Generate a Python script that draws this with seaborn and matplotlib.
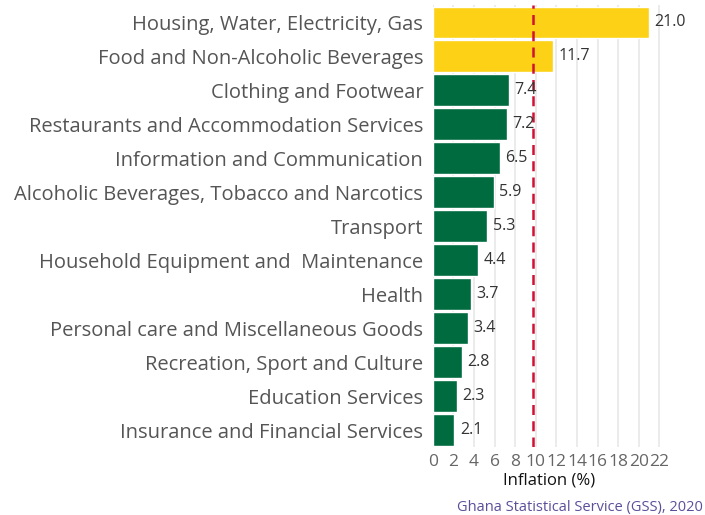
import pandas as pd
import numpy as np
import matplotlib.pyplot as plt
import seaborn as sns

categories = [
    "Housing, Water, Electricity, Gas",
    "Food and Non-Alcoholic Beverages",
    "Clothing and Footwear",
    "Restaurants and Accommodation Services",
    "Information and Communication",
    "Alcoholic Beverages, Tobacco and Narcotics",
    "Transport",
    "Household Equipment and  Maintenance",
    "Health",
    "Personal care and Miscellaneous Goods",
    "Recreation, Sport and Culture",
    "Education Services",
    "Insurance and Financial Services",
]
inflation = [21.0, 11.7, 7.4, 7.2, 6.5, 5.9, 5.3, 4.4, 3.7, 3.4, 2.8, 2.3, 2.1]
overall_rate = 9.7
x_ticks = list(range(0, 24, 2))

df = pd.DataFrame({"category": categories, "inflation": inflation})
df["above"] = np.where(df["inflation"] > overall_rate, "above", "below")

sns.set_style("white")
plt.rcParams["font.family"] = ["Open Sans", "DejaVu Sans"]

fig = plt.figure(figsize=(7.05, 5.15), dpi=100)
ax = fig.add_axes([0.614, 0.132, 0.33, 0.858])

for t in x_ticks:
    ax.axvline(t, color="#ebebeb", lw=1.4, zorder=0)

sns.barplot(
    data=df,
    x="inflation",
    y="category",
    hue="above",
    palette={"above": "#FCD116", "below": "#006B3F"},
    width=0.92,
    dodge=False,
    legend=False,
    saturation=1,
    ax=ax,
    zorder=2
)

ax.axvline(overall_rate, color="#D21034", lw=1.8, ls=(0, (4, 2.5)), zorder=3)

for container in ax.containers:
    ax.bar_label(
        container,
        fmt="%.1f",
        padding=4,
        fontsize=11.5,
        color="#333333"
    )

ax.set_xlim(0, 22.6)
ax.set_xticks(x_ticks)
ax.set_xticklabels([str(t) for t in x_ticks], fontsize=12.5, color="#666666")
ax.set_yticklabels(categories, fontsize=14.5, color="#555555")
ax.tick_params(axis="both", length=0)
ax.tick_params(axis="y", pad=7)
ax.tick_params(axis="x", pad=5)
ax.set_ylabel("")
ax.set_xlabel("Inflation (%)", fontsize=12, color="#111111", labelpad=2)

for side in ["top", "right", "left", "bottom"]:
    ax.spines[side].set_visible(False)

fig.text(
    703 / 705, 1 - 508 / 515,
    "Ghana Statistical Service (GSS), 2020",
    fontsize=10.5,
    color="#5b4f9a",
    ha="right",
    va="center"
)

plt.savefig("out.png", dpi=100)
